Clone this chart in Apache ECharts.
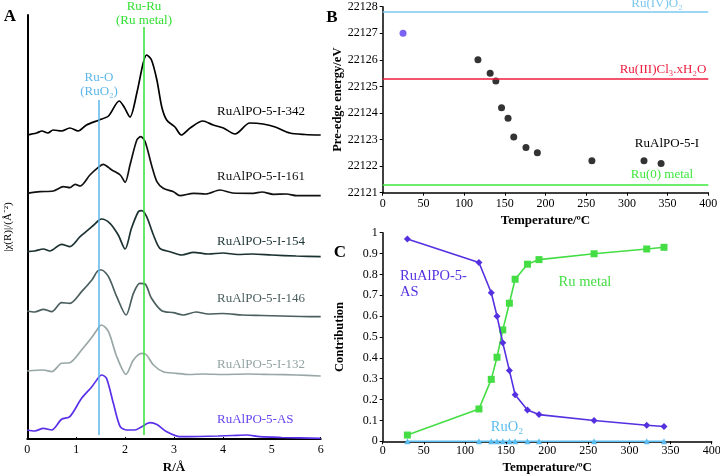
<!DOCTYPE html>
<html>
<head>
<meta charset="utf-8">
<script src="https://cdn.jsdelivr.net/npm/echarts@6/dist/echarts.min.js"></script>
<style>
html,body{margin:0;padding:0;background:#fff;}
#chart{width:720px;height:475px;}
</style>
</head>
<body>
<div id="chart"></div>
<script>
// ---------- Panel A : |chi(R)| curves, [R (Å), intensity (arb. units, stacked)] ----------
const curve342 = [[0,304],[0.19,306],[0.3,308],[0.42,306],[0.53,309],[0.7,308],[0.87,311],[1.04,308],[1.21,314],[1.47,319],[1.66,323],[1.88,338],[1.98,332],[2.1,322],[2.24,346],[2.37,376],[2.44,384],[2.54,379],[2.65,359],[2.75,332],[2.85,319],[3.02,312],[3.15,304],[3.33,311],[3.59,318],[3.8,314],[4.01,311],[4.25,305],[4.55,316],[4.82,315],[5.07,312],[5.37,306],[5.68,304.5],[6,304]];
const curve161 = [[0,245.7],[0.26,247.3],[0.53,248],[0.74,252.3],[0.87,251.3],[0.98,254.7],[1.08,253],[1.28,264],[1.47,272.3],[1.55,274.7],[1.73,269],[1.9,264],[2.0,256.7],[2.1,274],[2.24,299],[2.32,302.3],[2.41,297.3],[2.54,274],[2.65,257.3],[2.78,250.7],[2.99,247.3],[3.12,243.3],[3.4,245.7],[3.65,245],[3.94,249],[4.2,246],[4.62,245.7],[4.8,247],[5.03,244.7],[5.3,245],[5.51,243.3],[6,243.3]];
const curve154 = [[0,187.3],[0.15,188],[0.33,190],[0.46,188],[0.7,194.7],[0.87,192.3],[1.08,202.3],[1.32,212.3],[1.47,219],[1.52,220],[1.69,215.7],[1.86,204],[2.0,190],[2.13,210.7],[2.27,227.3],[2.34,228.3],[2.44,222.3],[2.58,204],[2.71,190.7],[2.92,187.3],[3.16,184],[3.4,186.7],[3.7,185],[4.0,186],[4.3,184.5],[4.6,185],[5.0,184],[5.5,183],[6,182.3]];
const curve146 = [[0,128],[0.15,127],[0.33,129.7],[0.5,127.3],[0.7,136.3],[0.87,135.7],[1.11,147.3],[1.32,159],[1.47,169],[1.52,169],[1.66,162.3],[1.83,142.3],[2.02,124],[2.17,145.7],[2.3,155.7],[2.41,155],[2.54,140.7],[2.75,128.3],[2.99,126.3],[3.19,124],[3.45,127],[3.7,125],[4.0,125.5],[4.4,124],[4.8,123.5],[5.2,123],[5.6,122.5],[6,122.3]];
const curve132 = [[0,68],[0.33,69],[0.5,67.3],[0.7,75.7],[0.87,76.3],[1.11,89],[1.32,101.7],[1.47,112.3],[1.52,114],[1.66,107.3],[1.83,82.3],[2.02,64.7],[2.17,79],[2.34,85.7],[2.44,84],[2.58,74],[2.78,67.3],[3.05,65.7],[3.3,64.5],[3.6,65],[4.0,64.5],[4.5,65],[5,64.5],[5.5,64],[6,63]];
const curveAS = [[0,9],[0.15,8],[0.33,10.7],[0.5,9],[0.7,19.7],[0.87,22.3],[1.11,40.7],[1.32,52.3],[1.47,62.3],[1.52,64],[1.62,60.7],[1.76,35.7],[1.9,12.3],[2.04,9],[2.2,9],[2.34,12.3],[2.51,16.3],[2.65,14.5],[2.85,7.3],[3.12,2.3],[3.5,2.5],[3.9,3],[4.2,3.5],[4.49,4],[4.75,2.3],[5.2,1.5],[6,0.7]];
const curveNamesA = ['RuAlPO-5-I-342','RuAlPO-5-I-161','RuAlPO-5-I-154','RuAlPO-5-I-146','RuAlPO-5-I-132','RuAlPO-5-AS'];
// reference distances (Å) and vertical extent of the marker lines
const ruORefR = 1.47;
const ruRuRefR = 2.39;
const ruOLineSpan = [4, 339];
const ruRuLineSpan = [4, 412];

// ---------- Panel B : pre-edge energy vs temperature ----------
const asPointB = [[25, 22127.0]];
const tempB = [117, 132, 139, 146, 154, 161, 176, 190, 257, 321, 342];
const energyB = [22126.0, 22125.5, 22125.2, 22124.2, 22123.8, 22123.1, 22122.7, 22122.5, 22122.2, 22122.2, 22122.1];
const refRuO2 = 22127.8;
const refRuCl3 = 22125.3;
const refRu0 = 22121.3;

// ---------- Panel C : LCF contributions ----------
const tempC = [30, 117, 132, 139, 146, 154, 161, 176, 190, 257, 321, 342];
const contribAS = [0.970, 0.857, 0.712, 0.600, 0.472, 0.340, 0.223, 0.150, 0.128, 0.100, 0.077, 0.071];
const contribRuMetal = [0.030, 0.155, 0.297, 0.403, 0.534, 0.662, 0.777, 0.849, 0.871, 0.899, 0.922, 0.930];
const contribRuO2 = [0, 0, 0, 0, 0, 0, 0, 0, 0, 0, 0, 0];

const SERIF = '"Liberation Serif", "Times New Roman", serif';
const colorsA = ['#000000', '#111111', '#1c3232', '#4b5f5f', '#99a7a7', '#5a30e8'];
const textColorsA = ['#000000', '#111111', '#1c3434', '#4b5f5f', '#93a3a3', '#6644f0'];
const curvesA = [curve342, curve161, curve154, curve146, curve132, curveAS];

const chart = echarts.init(document.getElementById('chart'), null, {renderer: 'canvas'});

const plainNum = (v) => String(Math.round(v * 1000) / 1000);

const axisCommon = (extra) => Object.assign({
  type: 'value',
  splitLine: {show: false},
  axisLine: {show: true, onZero: false, lineStyle: {color: '#000', width: 1.5}},
  axisTick: {show: true, inside: false, length: 3, lineStyle: {color: '#000', width: 1}},
  axisLabel: {color: '#000', fontFamily: SERIF, fontSize: 12, margin: 5, showMinLabel: true, showMaxLabel: true, hideOverlap: false, formatter: plainNum},
  nameTextStyle: {color: '#000', fontFamily: SERIF, fontSize: 13, fontWeight: 'bold'}
}, extra);

const series = [];
curvesA.forEach((c, i) => {
  series.push({
    type: 'line', xAxisIndex: 0, yAxisIndex: 0, data: c,
    smooth: 0.28, showSymbol: false, symbol: 'none',
    lineStyle: {color: colorsA[i], width: 1.7},
    z: 3
  });
});
// vertical reference lines in panel A
series.push({
  type: 'line', xAxisIndex: 0, yAxisIndex: 0, data: [],
  markLine: {
    silent: true, symbol: ['none', 'none'], label: {show: false}, animation: false,
    data: [
      [{coord: [ruORefR, ruOLineSpan[0]], lineStyle: {color: '#5cb6ea', width: 1.5, type: 'solid'}}, {coord: [ruORefR, ruOLineSpan[1]]}],
      [{coord: [ruRuRefR, ruRuLineSpan[0]], lineStyle: {color: '#33e033', width: 1.5, type: 'solid'}}, {coord: [ruRuRefR, ruRuLineSpan[1]]}]
    ]
  },
  z: 2
});
// Panel B
series.push({
  type: 'scatter', xAxisIndex: 1, yAxisIndex: 1, data: asPointB,
  symbol: 'circle', symbolSize: 7, itemStyle: {color: '#5a3cf0'}, z: 4
});
series.push({
  type: 'scatter', xAxisIndex: 1, yAxisIndex: 1,
  data: tempB.map((t, i) => [t, energyB[i]]),
  symbol: 'circle', symbolSize: 7, itemStyle: {color: '#000'}, z: 4,
  markLine: {
    silent: true, symbol: ['none', 'none'], label: {show: false}, animation: false,
    data: [
      {yAxis: refRuO2, lineStyle: {color: '#7cc8ee', width: 1.5, type: 'solid'}},
      {yAxis: refRuCl3, lineStyle: {color: '#ee1c3c', width: 1.5, type: 'solid'}},
      {yAxis: refRu0, lineStyle: {color: '#3ee83e', width: 1.5, type: 'solid'}}
    ]
  }
});
// Panel C
series.push({
  type: 'line', xAxisIndex: 2, yAxisIndex: 2,
  data: tempC.map((t, i) => [t, contribRuO2[i]]),
  symbol: 'triangle', symbolSize: 6, showSymbol: true,
  lineStyle: {color: '#5bbcf0', width: 1.6}, itemStyle: {color: '#5bbcf0'}, z: 5
});
series.push({
  type: 'line', xAxisIndex: 2, yAxisIndex: 2,
  data: tempC.map((t, i) => [t, contribRuMetal[i]]),
  symbol: 'rect', symbolSize: 7, showSymbol: true,
  lineStyle: {color: '#44dd44', width: 1.6}, itemStyle: {color: '#44dd44'}, z: 5
});
series.push({
  type: 'line', xAxisIndex: 2, yAxisIndex: 2,
  data: tempC.map((t, i) => [t, contribAS[i]]),
  symbol: 'diamond', symbolSize: 7, showSymbol: true,
  lineStyle: {color: '#5530e0', width: 1.6}, itemStyle: {color: '#5530e0'}, z: 6
});

const txt = (text, x, y, fill, size, opts) => Object.assign({
  type: 'text', x: x, y: y, silent: true, z: 100,
  style: Object.assign({
    text: text, fill: fill,
    font: (opts && opts.bold ? 'bold ' : '') + size + 'px ' + SERIF,
    textAlign: (opts && opts.align) || 'center', textVerticalAlign: 'middle'
  })
});

const labelYA = [112, 177, 242, 299, 365, 420];
const graphics = [
  txt('A', 10, 17, '#000', 17, {bold: true}),
  txt('B', 332, 18, '#000', 17, {bold: true}),
  txt('C', 340, 253, '#000', 17, {bold: true}),
  txt('Ru-O', 99, 78, '#5cb6ea', 13),
  txt('(RuO₂)', 99, 92, '#5cb6ea', 13),
  txt('Ru-Ru', 144, 7, '#33e033', 13),
  txt('(Ru metal)', 144, 21, '#33e033', 13),
  txt('Ru(IV)O₂', 657, 4, '#7cc8ee', 13),
  txt('Ru(III)Cl₃.xH₂O', 663, 70, '#ee1c3c', 13),
  txt('RuAlPO-5-I', 667, 144, '#000', 13),
  txt('Ru(0) metal', 662, 175, '#3ee83e', 13),
  txt('RuAlPO-5-', 400, 276, '#5530e0', 14.5, {align: 'left'}),
  txt('AS', 400, 292, '#5530e0', 14.5, {align: 'left'}),
  txt('Ru metal', 585, 282, '#44dd44', 14.5),
  txt('RuO₂', 507, 427, '#5bbcf0', 14.5)
];
curveNamesA.forEach((n, i) => graphics.push(txt(n, 217, labelYA[i], textColorsA[i], 13, {align: 'left'})));

chart.setOption({
  animation: false,
  backgroundColor: '#fff',
  grid: [
    {left: 27.3, top: 15, width: 293.4, height: 424, outerBoundsMode: 'none', containLabel: false},
    {left: 382.7, top: 6.7, width: 325.6, height: 186, outerBoundsMode: 'none', containLabel: false},
    {left: 382.7, top: 232.7, width: 329, height: 208.6, outerBoundsMode: 'none', containLabel: false}
  ],
  xAxis: [
    axisCommon({gridIndex: 0, min: 0, max: 6, interval: 1, name: 'R/Å', nameLocation: 'middle', nameGap: 19,
      axisTick: {show: true, inside: true, length: 2, lineStyle: {color: '#000'}},
      axisLine: {show: true, onZero: false, lineStyle: {color: '#000', width: 2}}}),
    axisCommon({gridIndex: 1, min: 0, max: 400, interval: 50, name: 'Temperature/ºC', nameLocation: 'middle', nameGap: 21}),
    axisCommon({gridIndex: 2, min: 0, max: 400, interval: 50, name: 'Temperature/ºC', nameLocation: 'middle', nameGap: 20, axisLabel: {color: '#000', fontFamily: SERIF, fontSize: 12, margin: 4, showMinLabel: true, showMaxLabel: true, formatter: plainNum}})
  ],
  yAxis: [
    axisCommon({gridIndex: 0, min: 0, max: 424, name: '|χ(R)|/(Å⁻²)', nameLocation: 'middle', nameGap: 14, nameRotate: 90,
      axisLabel: {show: false}, axisTick: {show: false},
      axisLine: {show: true, onZero: false, lineStyle: {color: '#000', width: 2}},
      nameTextStyle: {color: '#000', fontFamily: SERIF, fontSize: 11}}),
    axisCommon({gridIndex: 1, min: 22121, max: 22128, interval: 1, name: 'Pre-edge energy/eV', nameLocation: 'middle', nameGap: 38, nameRotate: 90,
      nameTextStyle: {color: '#000', fontFamily: SERIF, fontSize: 12.5, fontWeight: 'bold'}}),
    axisCommon({gridIndex: 2, min: 0, max: 1, interval: 0.1, name: 'Contribution', nameLocation: 'middle', nameGap: 36, nameRotate: 90,
      nameTextStyle: {color: '#000', fontFamily: SERIF, fontSize: 12.5, fontWeight: 'bold'}})
  ],
  series: series,
  graphic: graphics
});
</script>
</body>
</html>
